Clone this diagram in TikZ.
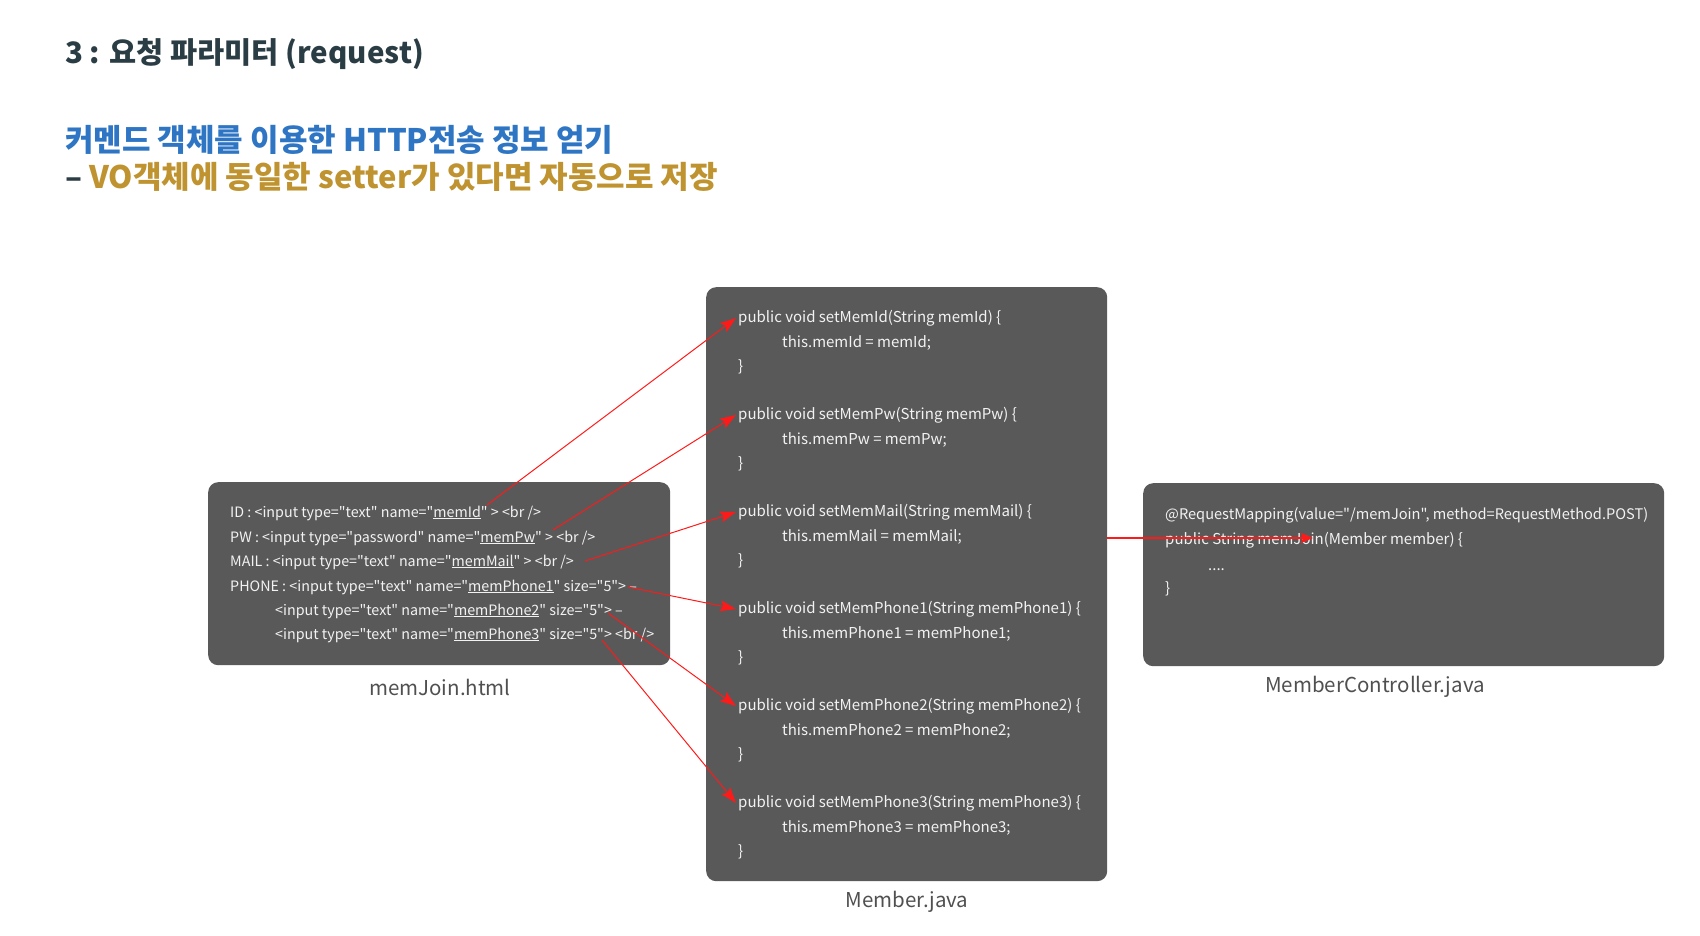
\documentclass[tikz,border=0pt]{standalone}
\usepackage{fontspec}
\setmainfont{Noto Sans CJK KR}
\newfontfamily\codefont{Noto Sans CJK KR}
\usetikzlibrary{arrows.meta}

\definecolor{boxgray}{HTML}{595959}
\definecolor{titledark}{HTML}{2B3D44}
\definecolor{titleblue}{HTML}{2E75C4}
\definecolor{titlegold}{HTML}{BF9330}
\definecolor{codewhite}{HTML}{F2F2F2}
\definecolor{labelgray}{HTML}{505050}
\definecolor{linkred}{HTML}{FF1A1A}

\tikzset{
  codebox/.style={fill=boxgray, rounded corners=10pt, draw=none, anchor=north west, inner sep=0pt},
  codeline/.style={anchor=west, inner sep=0pt, text=codewhite, font=\codefont\fontsize{15}{18}\selectfont, text height=11pt, text depth=3pt},
  htmlline/.style={codeline, font=\codefont\fontsize{14.3}{18}\selectfont},
  filelabel/.style={text=labelgray, font=\fontsize{20.5}{24}\selectfont},
  headline/.style={anchor=west, inner sep=0pt, font=\fontsize{31}{34}\selectfont\bfseries},
  setlink/.style={-{Stealth[length=16pt,width=11pt,inset=3pt]}, linkred, line width=1pt},
  joinlink/.style={-{Stealth[length=12pt,width=10pt,inset=2pt]}, linkred, line width=2pt},
}

\begin{document}
\begin{tikzpicture}[x=1pt,y=-1pt]
\useasboundingbox (0,0) rectangle (1700,936);

% titles
\node[headline, text=titledark, font=\fontsize{29.5}{34}\selectfont\bfseries] (title) at (65,54) {3 : 요청 파라미터 (request)};
\node[headline, text=titleblue] (subtitle) at (65,140) {커멘드 객체를 이용한 HTTP전송 정보 얻기};
\node[headline, text=titlegold] (note) at (65,177) {{\color{titledark}--} VO객체에 동일한 setter가 있다면 자동으로 저장};

% boxes
\node[codebox, minimum width=462pt, minimum height=183pt] (htmlbox) at (208,482) {};
\node[codebox, minimum width=401pt, minimum height=594pt] (memberbox) at (706,287) {};
\node[codebox, minimum width=521pt, minimum height=183pt] (ctrlbox) at (1143,483) {};

\node[filelabel] (htmllabel) at (440,687) {memJoin.html};
\node[filelabel] (memberlabel) at (907,902) {Member.java};
\node[filelabel] (ctrllabel) at (1375,687) {MemberController.java};

% memJoin.html
\node[htmlline] (inId) at (230,513) {ID : <input type="text" name="\underline{memId}" > <br />};
\node[htmlline] (inPw) at (230,538) {PW : <input type="password" name="\underline{memPw}" > <br />};
\node[htmlline] (inMail) at (230,562) {MAIL : <input type="text" name="\underline{memMail}" > <br />};
\node[htmlline] (inPhoneA) at (230,587) {PHONE : <input type="text" name="\underline{memPhone1}" size="5"> –};
\node[htmlline] (inPhoneB) at (275,611) {<input type="text" name="\underline{memPhone2}" size="5"> –};
\node[htmlline] (inPhoneC) at (275,635) {<input type="text" name="\underline{memPhone3}" size="5"> <br />};

% Member.java
\foreach \k/\nm/\suf in {0/Id/Id, 1/Pw/Pw, 2/Mail/Mail, 3/PhoneA/Phone1, 4/PhoneB/Phone2, 5/PhoneC/Phone3} {
  \pgfmathsetmacro{\by}{318+97*\k}
  \node[codeline] (set\nm) at (738,\by) {public void setMem\suf(String mem\suf) \{};
  \node[codeline] (body\nm) at (782,\by+25) {this.mem\suf{} = mem\suf;};
  \node[codeline] (close\nm) at (738,\by+49) {\}};
}

% MemberController.java
\node[codeline, font=\codefont\fontsize{14.6}{18}\selectfont] (mapping) at (1165,515) {@RequestMapping(value="/memJoin", method=RequestMethod.POST)};
\node[codeline] (joinsig) at (1165,540) {public String memJoin(Member member) \{};
\node[codeline] (joindots) at (1208,566) {....};
\node[codeline] (joinclose) at (1165,589) {\}};

% arrows
\coordinate (IdEnd) at (487,505);
\coordinate (PwEnd) at (553,530);
\coordinate (MailEnd) at (585,561);
\coordinate (PhoneAEnd) at (628,587);
\coordinate (PhoneBEnd) at (608,613);
\coordinate (PhoneCEnd) at (602,640);
\foreach \nm in {Id,Pw,Mail,PhoneA,PhoneB,PhoneC}
  \draw[setlink] (\nm End) -- ([xshift=-2pt]set\nm.west);

\coordinate (joinTip) at (1313,538);
\draw[joinlink] (memberbox.east |- joinTip) -- (joinTip);
\end{tikzpicture}
\end{document}
